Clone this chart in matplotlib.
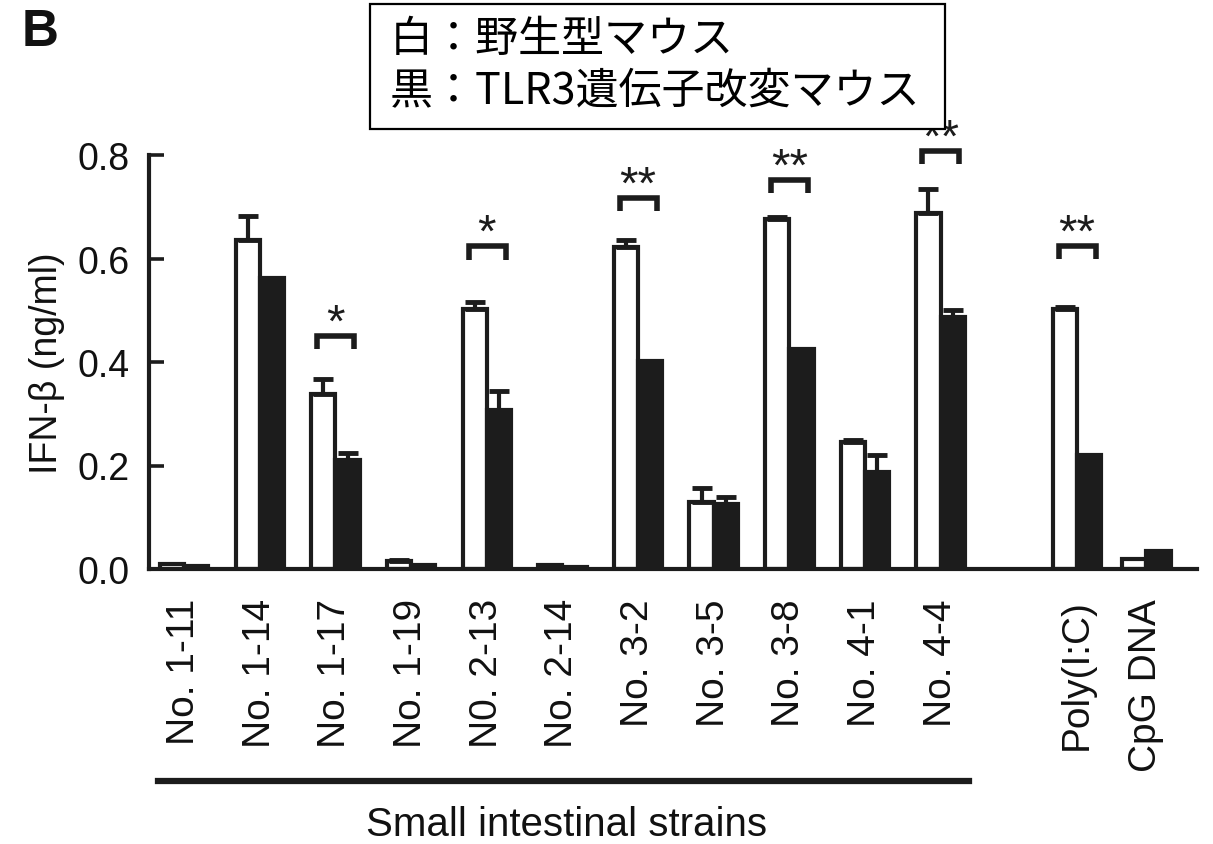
import numpy as np
import matplotlib
matplotlib.use("Agg")
import matplotlib.pyplot as plt
from matplotlib.patches import Rectangle
from matplotlib.lines import Line2D

# ---------------- data ----------------
categories = ["No. 1-11", "No. 1-14", "No. 1-17", "No. 1-19", "N0. 2-13", "No. 2-14",
              "No. 3-2", "No. 3-5", "No. 3-8", "No. 4-1", "No. 4-4",
              "Poly(I:C)", "CpG DNA"]
wild_vals = [0.010, 0.636, 0.338, 0.015, 0.502, 0.008, 0.623, 0.129, 0.676, 0.246, 0.688, 0.503, 0.019]
wild_err  = [0.000, 0.047, 0.029, 0.003, 0.014, 0.000, 0.012, 0.027, 0.004, 0.004, 0.047, 0.003, 0.000]
tlr3_vals = [0.005, 0.562, 0.211, 0.008, 0.308, 0.004, 0.402, 0.125, 0.426, 0.188, 0.486, 0.221, 0.034]
tlr3_err  = [0.000, 0.000, 0.013, 0.000, 0.036, 0.000, 0.000, 0.015, 0.000, 0.032, 0.015, 0.000, 0.000]

sig_groups = ["No. 1-17", "N0. 2-13", "No. 3-2", "No. 3-8", "No. 4-4", "Poly(I:C)"]
sig_marks  = ["*", "*", "**", "**", "**", "**"]
sig_heights = [0.451, 0.624, 0.717, 0.752, 0.808, 0.625]

yticks = [0.0, 0.2, 0.4, 0.6, 0.8]
ylabel = "IFN-β (ng/ml)"
group_label = "Small intestinal strains"
legend_lines = ["白：野生型マウス", "黒：TLR3遺伝子改変マウス"]
panel_label = "B"

# ---------------- layout ----------------
W, H = 1213, 845
fig = plt.figure(figsize=(W / 100, H / 100), dpi=100)
ax = fig.add_axes([149 / W, 1 - 570 / H, (1197 - 149) / W, (570 - 156) / H])

n_strain = 11
pos = np.concatenate([np.arange(n_strain), [11.8, 12.72]])
bw = 0.32
black = "#1c1c1c"
latin = ["Liberation Sans", "DejaVu Sans"]

ax.bar(pos - bw / 2, wild_vals, width=bw, color="white", edgecolor=black, linewidth=3, zorder=2)
ax.bar(pos + bw / 2, tlr3_vals, width=bw, color=black, edgecolor=black, linewidth=3, zorder=2)

for x, v, e in zip(pos - bw / 2, wild_vals, wild_err):
    if e > 0:
        ax.errorbar([x], [v], yerr=[[0], [e]], fmt="none", ecolor=black, elinewidth=3,
                    capsize=7, capthick=3.5, zorder=3)
for x, v, e in zip(pos + bw / 2, tlr3_vals, tlr3_err):
    if e > 0:
        ax.errorbar([x], [v], yerr=[[0], [e]], fmt="none", ecolor=black, elinewidth=3,
                    capsize=7, capthick=3.5, zorder=3)

# significance brackets
for g, m, h in zip(sig_groups, sig_marks, sig_heights):
    c = pos[categories.index(g)]
    ax.plot([c - 0.24, c - 0.24, c + 0.25, c + 0.25], [h - 0.026, h, h, h - 0.026],
            color=black, lw=4, solid_joinstyle="miter", solid_capstyle="butt",
            clip_on=False, zorder=4)
    ax.text(c, h + 0.0, m, ha="center", va="baseline", fontsize=34,
            family=latin, color=black, clip_on=False, zorder=4)

ax.set_xlim(-0.465, 13.39)
ax.set_ylim(0, 0.8)
ax.set_yticks(yticks)
ax.set_yticklabels([f"{t:.1f}" for t in yticks], fontsize=27, family=latin, color="#111111")
ax.set_xticks(pos)
ax.set_xticklabels(categories, rotation=90, fontsize=28, family=latin, color="#111111",
                   ha="center", va="top")
ax.tick_params(axis="y", direction="in", length=11, width=2.6, pad=14, color=black)
ax.tick_params(axis="x", length=0, pad=21)
for s in ["top", "right"]:
    ax.spines[s].set_visible(False)
for s in ["left", "bottom"]:
    ax.spines[s].set_linewidth(3)
    ax.spines[s].set_color(black)

ax.set_ylabel(ylabel, fontsize=27, family=latin, color="#111111", labelpad=9)

# group underline and label
trans = ax.get_xaxis_transform()
ax.add_line(Line2D([-0.34, 10.38], [-0.512, -0.512], transform=trans, color=black,
                   lw=4.5, clip_on=False))
ax.text(5.05, -0.615, group_label, transform=trans, ha="center", va="center",
        fontsize=29, family=latin, color="#111111")

# panel label
fig.text(22 / W, 1 - 33 / H, panel_label, fontsize=37, fontweight="bold", family=latin,
         ha="left", va="center", color="#111111")

# legend box
fig.patches.append(Rectangle((370 / W, 1 - 130 / H), (945 - 370) / W, (130 - 5) / H,
                             transform=fig.transFigure, facecolor="white", edgecolor="black",
                             linewidth=1.6, zorder=10))
cjk = ["Noto Sans CJK JP", "DejaVu Sans"]
fig.text(390 / W, 1 - 40 / H, legend_lines[0], fontsize=31, family=cjk, ha="left",
         va="center", color="black", zorder=11)
fig.text(390 / W, 1 - 92 / H, legend_lines[1], fontsize=31, family=cjk, ha="left",
         va="center", color="black", zorder=11)

fig.savefig("out.png", dpi=100)
